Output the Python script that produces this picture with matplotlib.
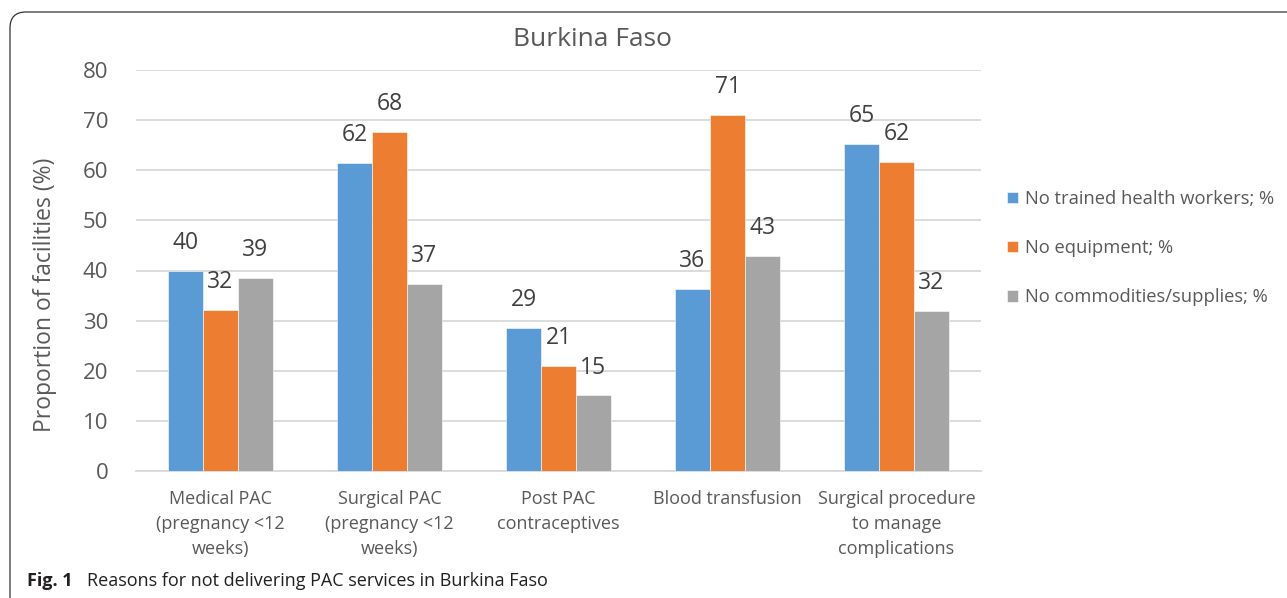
import matplotlib.pyplot as plt
import numpy as np
from matplotlib.patches import FancyBboxPatch
from matplotlib.transforms import IdentityTransform

plt.rcParams['font.family'] = ['Open Sans', 'DejaVu Sans']

categories = ["Medical PAC\n(pregnancy <12\nweeks)",
              "Surgical PAC\n(pregnancy <12\nweeks)",
              "Post PAC\ncontraceptives",
              "Blood transfusion",
              "Surgical procedure\nto manage\ncomplications"]
series_names = ["No trained health workers; %",
                "No equipment; %",
                "No commodities/supplies; %"]
no_workers = [40.0, 61.5, 28.6, 36.3, 65.3]
no_equipment = [32.1, 67.7, 21.0, 71.1, 61.7]
no_supplies = [38.6, 37.3, 15.1, 42.9, 32.0]
colors = ["#5B9BD5", "#ED7D31", "#A5A5A5"]

W, H = 1287, 598
fig = plt.figure(figsize=(W / 100, H / 100), dpi=100)
ax = fig.add_axes([136 / W, 1 - 471 / H, (981 - 136) / W, (471 - 70) / H])

x = np.arange(len(categories))
width = 0.207
handles = []
for i, (vals, name) in enumerate(zip([no_workers, no_equipment, no_supplies], series_names)):
    bars = ax.bar(x + (i - 1) * width, vals, width, color=colors[i], label=name,
                  edgecolor='white', linewidth=0.4, zorder=3)
    handles.append(bars)
    for xi, v in zip(x + (i - 1) * width, vals):
        ax.annotate(f"{int(v + 0.5)}", (xi, v), xytext=(0, 20), textcoords='offset points',
                    ha='center', va='center', fontsize=16.5, color='#404040')

ax.set_xlim(-0.5, len(categories) - 0.5)
ax.set_ylim(0, 80)
ax.set_yticks(range(0, 81, 10))
ax.grid(axis='y', color='#D9D9D9', linewidth=1.3, zorder=0)
for s in ['top', 'right', 'left']:
    ax.spines[s].set_visible(False)
ax.spines['bottom'].set_color('#D9D9D9')
ax.spines['bottom'].set_linewidth(1.3)
ax.set_xticks(x)
ax.set_xticklabels(categories, fontsize=13, color='#595959', linespacing=1.5)
ax.tick_params(axis='x', length=0, pad=14)
ax.tick_params(axis='y', length=0, pad=20, labelsize=16, labelcolor='#595959')
ax.set_ylabel("Proportion of facilities (%)", fontsize=16.5, color='#595959')
ax.yaxis.set_label_coords(-0.094, 0.44)

fig.text(592 / W, 1 - 39 / H, "Burkina Faso", fontsize=19, color='#595959',
         ha='center', va='center')

fig.legend(handles=handles, loc='center left', bbox_to_anchor=(990 / W, 1 - 248 / H),
           frameon=False, fontsize=13.2, labelcolor='#595959', handlelength=0.6,
           handleheight=0.6, handletextpad=0.4, labelspacing=1.7)

fig.text(27 / W, 1 - 581 / H, "Fig. 1", fontsize=13, fontweight='bold',
         color='#231F20', va='center')
fig.text(87 / W, 1 - 581 / H, "Reasons for not delivering PAC services in Burkina Faso",
         fontsize=13, color='#231F20', va='center')

box = FancyBboxPatch((10, -30), 1400, H - 12 + 30, boxstyle='round,pad=0,rounding_size=16',
                     transform=IdentityTransform(), facecolor='none',
                     edgecolor='#333333', linewidth=0.9)
fig.patches.append(box)

fig.savefig('out.png', dpi=100)
